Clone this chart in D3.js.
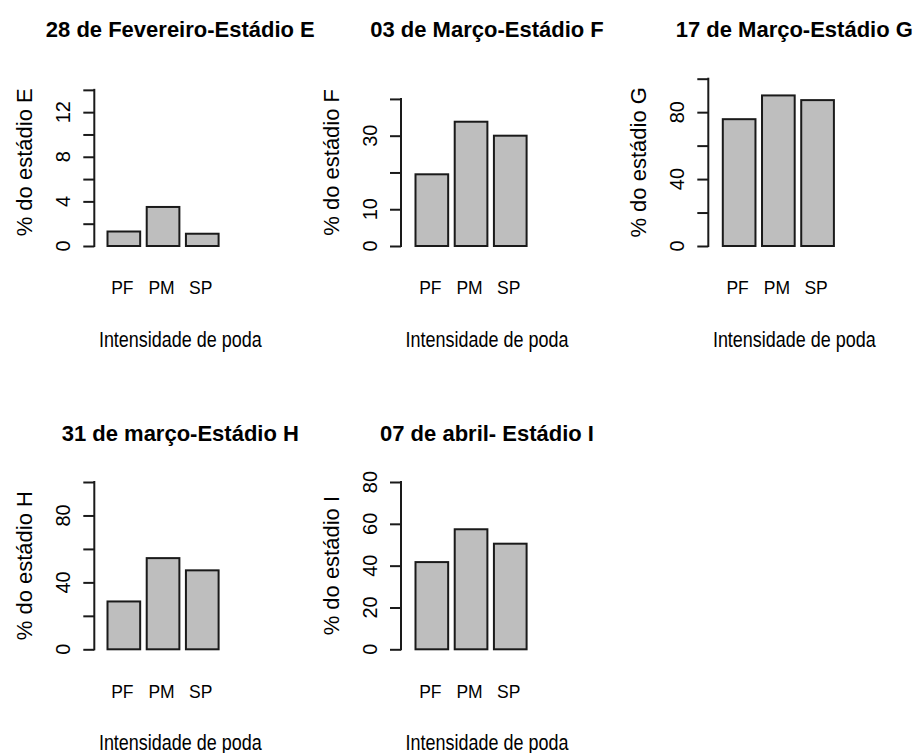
<!DOCTYPE html>
<html>
<head>
<meta charset="utf-8">
<script src="https://cdn.jsdelivr.net/npm/d3@7"></script>
<style>
  html, body { margin: 0; padding: 0; background: #ffffff; }
  svg { display: block; }
  text { font-family: "Liberation Sans", Arial, sans-serif; fill: #000; }
</style>
</head>
<body>
<svg id="chart" width="916" height="753"></svg>
<script>
// ---- data ----
const categories = ["PF", "PM", "SP"];
const titles = [
  "28 de Fevereiro-Estádio E",
  "03 de Março-Estádio F",
  "17 de Março-Estádio G",
  "31 de março-Estádio H",
  "07 de abril- Estádio I"
];
const yTitles = [
  "% do estádio E",
  "% do estádio F",
  "% do estádio G",
  "% do estádio H",
  "% do estádio I"
];
const xTitle = "Intensidade de poda";
const valuesE = [1.3, 3.5, 1.1];
const valuesF = [19.5, 33.8, 30.0];
const valuesG = [75.8, 90.0, 87.2];
const valuesH = [28.6, 54.5, 47.2];
const valuesI = [41.7, 57.4, 50.5];
const yLimits = [15, 45.5, 100, 100, 80];
const axisMax = [14, 40, 100, 100, 80];
const tickSteps = [2, 10, 20, 20, 20];
const tickLabels = [[0, 4, 8, 12], [0, 10, 30], [0, 40, 80], [0, 40, 80], [0, 20, 40, 60, 80]];

const series = [valuesE, valuesF, valuesG, valuesH, valuesI];

// ---- layout ----
const axisXs = [94.3, 401, 708.3, 94.3, 401];
const barLefts = [107.5, 415.5, 722.8, 107.5, 415.5];
const rowBase = [246, 649.3, 246, 649.3];
const panelRow = [0, 0, 0, 1, 1];
const plotHeight = 167.3;
const barSpan = 111.1;
const rowShift = 403.3;

const svg = d3.select("#chart");

series.forEach((vals, i) => {
  const row = panelRow[i];
  const y0 = rowBase[row];
  const ax = axisXs[i];
  const cx = ax + 86;
  const dy = row * rowShift;

  const x = d3.scaleBand()
    .domain(categories)
    .range([barLefts[i], barLefts[i] + barSpan])
    .paddingInner(0.1667)
    .paddingOuter(0);

  const y = d3.scaleLinear()
    .domain([0, yLimits[i]])
    .range([y0, y0 - plotHeight]);

  const g = svg.append("g");

  // bars
  g.selectAll("rect.bar")
    .data(vals)
    .join("rect")
    .attr("class", "bar")
    .attr("x", (d, j) => x(categories[j]))
    .attr("width", x.bandwidth())
    .attr("y", d => y(d))
    .attr("height", d => y(0) - y(d))
    .attr("fill", "#bebebe")
    .attr("stroke", "#1a1a1a")
    .attr("stroke-width", 2);

  // y axis (line spans first to last tick)
  const ticks = d3.range(0, axisMax[i] + tickSteps[i] / 2, tickSteps[i]);
  const axis = d3.axisLeft(y)
    .tickValues(ticks)
    .tickSize(11)
    .tickSizeOuter(0)
    .tickFormat("");
  const ag = g.append("g")
    .attr("transform", `translate(${ax},0)`)
    .call(axis);
  ag.select(".domain").remove();
  ag.selectAll(".tick line").attr("stroke", "#1a1a1a").attr("stroke-width", 2);
  ag.append("line")
    .attr("x1", 0).attr("x2", 0)
    .attr("y1", y(0) + 1).attr("y2", y(axisMax[i]) - 1)
    .attr("stroke", "#1a1a1a").attr("stroke-width", 2);

  // rotated tick labels
  g.selectAll("text.tick-label")
    .data(tickLabels[i])
    .join("text")
    .attr("class", "tick-label")
    .attr("transform", d => `translate(${ax - 24},${y(d)}) rotate(-90)`)
    .attr("text-anchor", "middle")
    .attr("font-size", 20)
    .text(d => d);

  // category labels
  g.selectAll("text.cat")
    .data(categories)
    .join("text")
    .attr("class", "cat")
    .attr("x", d => x(d) + x.bandwidth() / 2 - 1.5)
    .attr("y", 294.3 + dy)
    .attr("text-anchor", "middle")
    .attr("font-size", 17.5)
    .text(d => d);

  // title
  g.append("text")
    .attr("transform", `translate(${cx},${37.3 + dy}) scale(1.0,1)`)
    .attr("text-anchor", "middle")
    .attr("font-size", 22)
    .attr("font-weight", "bold")
    .text(titles[i]);

  // x axis title
  g.append("text")
    .attr("transform", `translate(${cx},${346.7 + dy}) scale(0.817,1)`)
    .attr("text-anchor", "middle")
    .attr("font-size", 22)
    .text(xTitle);

  // y axis title
  g.append("text")
    .attr("transform", `translate(${ax - 62},${y0 - plotHeight / 2}) rotate(-90)`)
    .attr("text-anchor", "middle")
    .attr("font-size", 22)
    .text(yTitles[i]);
});
</script>
</body>
</html>
